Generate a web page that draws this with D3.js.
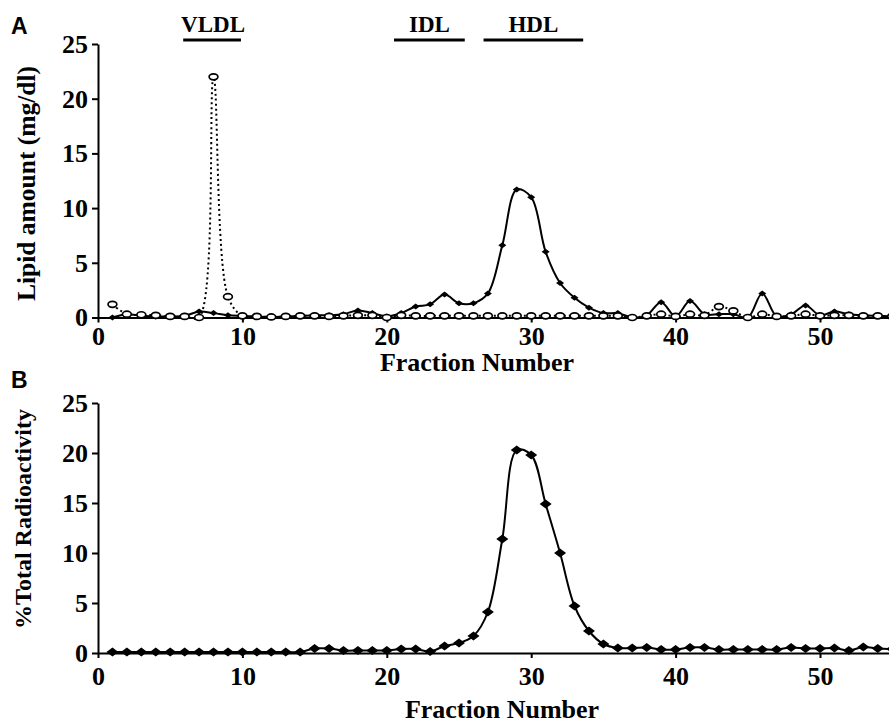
<!DOCTYPE html>
<html><head><meta charset="utf-8">
<script src="https://cdn.jsdelivr.net/npm/d3@7/dist/d3.min.js"></script>
<style>body{margin:0;background:#fff}svg{display:block}</style>
</head><body><svg id="c" width="889" height="727"></svg>
<script>
// ---- data ----
const fractions = d3.range(1, 56);
// Panel A: filled diamonds, solid line
const lipidSolid = [0.0,0.3,0.15,0.1,0.1,0.15,0.55,0.4,0.2,0.15,
                    0.1,0.05,0.1,0.15,0.2,0.2,0.3,0.65,0.4,0.1,
                    0.4,1.0,1.2,2.1,1.3,1.3,2.2,6.6,11.7,11.0,
                    6.0,3.15,1.8,0.9,0.4,0.4,0.0,0.2,1.4,0.1,
                    1.5,0.3,0.3,0.3,0.0,2.2,0.1,0.3,1.1,0.2,
                    0.55,0.3,0.2,0.15,0.1];
// Panel A: open circles, dotted line
const lipidOpen = [1.2,0.3,0.25,0.2,0.1,0.1,0.0,22.0,1.9,0.15,
                   0.1,0.05,0.1,0.15,0.15,0.1,0.15,0.2,0.2,0.0,
                   0.2,0.15,0.15,0.15,0.15,0.15,0.15,0.15,0.15,0.15,
                   0.15,0.15,0.15,0.15,0.15,0.15,0.0,0.15,0.3,0.1,
                   0.3,0.2,1.0,0.6,0.0,0.3,0.1,0.15,0.3,0.15,
                   0.2,0.2,0.15,0.15,0.1];
// Panel B: % total radioactivity
const radioactivity = [0.1,0.1,0.1,0.1,0.1,0.1,0.1,0.1,0.1,0.1,
                       0.1,0.1,0.1,0.1,0.45,0.45,0.25,0.25,0.25,0.25,
                       0.4,0.4,0.15,0.7,1.0,1.7,4.1,11.4,20.3,19.8,
                       14.9,10.0,4.7,2.2,0.9,0.5,0.5,0.55,0.35,0.35,
                       0.55,0.55,0.35,0.35,0.35,0.35,0.35,0.55,0.45,0.45,
                       0.5,0.25,0.6,0.45,0.4];
const xTicks = [0, 10, 20, 30, 40, 50];
const yTicks = [0, 5, 10, 15, 20, 25];
const bandNames = ["VLDL", "IDL", "HDL"];
const bandStart = [5.9, 20.5, 26.7];
const bandEnd = [9.9, 25.4, 33.6];

// ---- layout ----
const svg = d3.select("#c");
const serif = "'Liberation Serif','Times New Roman',Times,serif";
const sans = "'Liberation Sans',Arial,Helvetica,sans-serif";
const x = d3.scaleLinear().domain([0, 55]).range([98, 98 + 55 * 14.44]);
const yA = d3.scaleLinear().domain([0, 25]).range([317.5, 44]);
const yB = d3.scaleLinear().domain([0, 25]).range([653, 403]);
const curve = d3.curveCatmullRom.alpha(0.5);

function axes(y, labelDy) {
  const gy = svg.append("g").attr("transform", `translate(${x(0)},0)`)
    .call(d3.axisLeft(y).tickValues(yTicks).tickSize(6).tickSizeOuter(0).tickPadding(4));
  const gx = svg.append("g").attr("transform", `translate(0,${y(0)})`)
    .call(d3.axisBottom(x).tickValues(xTicks).tickSize(5).tickSizeOuter(0));
  [gx, gy].forEach(g => {
    g.select(".domain").attr("stroke", "#000").attr("stroke-width", 2);
    g.selectAll(".tick line").attr("stroke", "#000").attr("stroke-width", 2);
    g.selectAll("text").attr("font-family", serif).attr("font-weight", "bold")
      .attr("font-size", 26).attr("fill", "#000");
  });
  gx.selectAll("text").attr("y", labelDy).attr("dy", null);
}

// ---- Panel A ----
axes(yA, 27);
const lineA = d3.line().x((d, i) => x(fractions[i])).y(d => yA(d)).curve(curve);
svg.append("path").attr("d", lineA(lipidSolid)).attr("fill", "none")
  .attr("stroke", "#000").attr("stroke-width", 2);
svg.append("path").attr("d", lineA(lipidOpen)).attr("fill", "none")
  .attr("stroke", "#000").attr("stroke-width", 2).attr("stroke-dasharray", "2,3");
svg.append("g").selectAll("path").data(lipidSolid).join("path")
  .attr("d", "M0,-3L4,0L0,3L-4,0Z")
  .attr("transform", (d, i) => `translate(${x(fractions[i])},${yA(d)})`)
  .attr("fill", "#000");
svg.append("g").selectAll("ellipse").data(lipidOpen).join("ellipse")
  .attr("cx", (d, i) => x(fractions[i])).attr("cy", d => yA(d))
  .attr("rx", 4.4).attr("ry", 3)
  .attr("fill", "#fff").attr("stroke", "#000").attr("stroke-width", 1.7);

// lipoprotein bands
bandNames.forEach((name, i) => {
  svg.append("line").attr("x1", x(bandStart[i])).attr("x2", x(bandEnd[i]))
    .attr("y1", 40).attr("y2", 40).attr("stroke", "#000").attr("stroke-width", 3);
  svg.append("text").attr("x", (x(bandStart[i]) + x(bandEnd[i])) / 2 + (i === 0 ? 1 : 0))
    .attr("y", 32).attr("text-anchor", "middle")
    .attr("font-family", serif).attr("font-weight", "bold").attr("font-size", 23)
    .text(name);
});

svg.append("text").attr("transform", "translate(35,183.5) rotate(-90)")
  .attr("text-anchor", "middle").attr("font-family", serif).attr("font-weight", "bold")
  .attr("font-size", 25.5).text("Lipid amount (mg/dl)");
svg.append("text").attr("x", 477).attr("y", 371).attr("text-anchor", "middle")
  .attr("font-family", serif).attr("font-weight", "bold").attr("font-size", 26)
  .text("Fraction Number");
svg.append("text").attr("x", 11).attr("y", 34).attr("font-family", sans)
  .attr("font-weight", "bold").attr("font-size", 23).text("A");

// ---- Panel B ----
axes(yB, 32);
const lineB = d3.line().x((d, i) => x(fractions[i])).y(d => yB(d)).curve(curve);
svg.append("path").attr("d", lineB(radioactivity)).attr("fill", "none")
  .attr("stroke", "#000").attr("stroke-width", 2);
svg.append("g").selectAll("path").data(radioactivity).join("path")
  .attr("d", "M0,-4.5L6,0L0,4.5L-6,0Z")
  .attr("transform", (d, i) => `translate(${x(fractions[i])},${yB(d)})`)
  .attr("fill", "#000");

svg.append("text").attr("transform", "translate(31,519) rotate(-90)")
  .attr("text-anchor", "middle").attr("font-family", serif).attr("font-weight", "bold")
  .attr("font-size", 24).text("%Total Radioactivity");
svg.append("text").attr("x", 502).attr("y", 718).attr("text-anchor", "middle")
  .attr("font-family", serif).attr("font-weight", "bold").attr("font-size", 26)
  .text("Fraction Number");
svg.append("text").attr("x", 11).attr("y", 388).attr("font-family", sans)
  .attr("font-weight", "bold").attr("font-size", 23).text("B");
</script></body></html>
